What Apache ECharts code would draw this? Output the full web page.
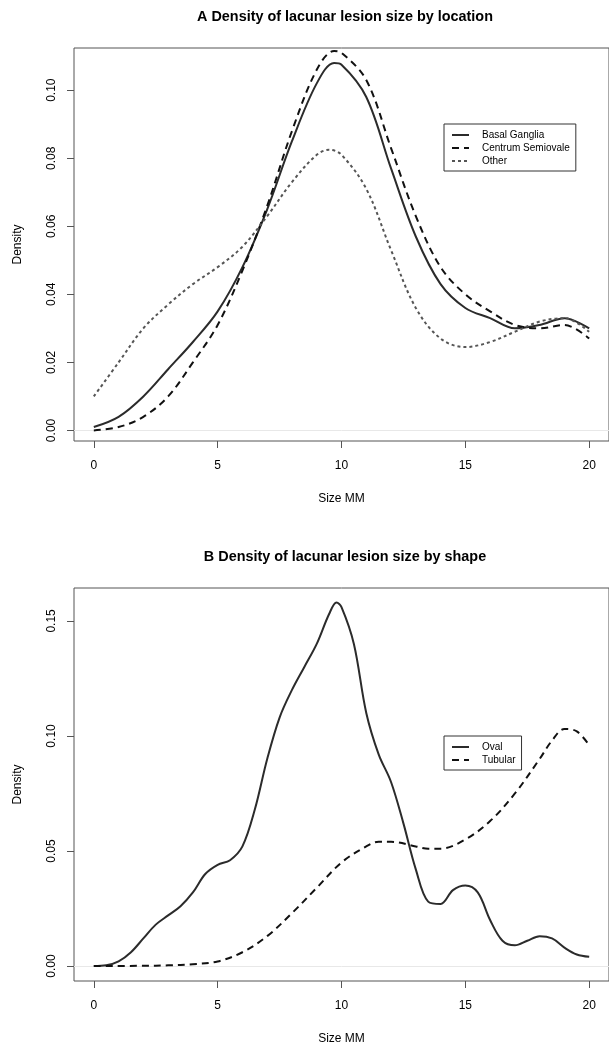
<!DOCTYPE html>
<html>
<head>
<meta charset="utf-8">
<script src="https://cdn.jsdelivr.net/npm/echarts@6/dist/echarts.min.js"></script>
<style>html,body{margin:0;padding:0;background:#fff;}#c{width:609px;height:1048px;}</style>
</head>
<body>
<div id="c"></div>
<script>
// ---- Tick positions and labels ----
const xTicks = [0, 5, 10, 15, 20];
const xTickLabels = ['0', '5', '10', '15', '20'];
const yTicksA = [0, 0.02, 0.04, 0.06, 0.08, 0.10];
const yTickLabelsA = ['0.00', '0.02', '0.04', '0.06', '0.08', '0.10'];
const yTicksB = [0, 0.05, 0.10, 0.15];
const yTickLabelsB = ['0.00', '0.05', '0.10', '0.15'];

// ---- Panel A: density by location ----
const xA = [0, 1, 2, 3, 4, 5, 6, 7, 8, 9, 9.7, 10, 11, 12, 13, 14, 15, 16, 17, 18, 19, 20];
const basalGanglia = [0.001, 0.004, 0.010, 0.018, 0.026, 0.035, 0.048, 0.065, 0.085, 0.102, 0.108, 0.1075, 0.098, 0.077, 0.057, 0.043, 0.036, 0.033, 0.030, 0.031, 0.033, 0.030];
const centrumSemiovale = [0.000, 0.001, 0.004, 0.010, 0.020, 0.031, 0.047, 0.066, 0.088, 0.106, 0.1115, 0.111, 0.103, 0.083, 0.063, 0.048, 0.040, 0.035, 0.031, 0.030, 0.031, 0.027];
const xOther = [0, 1, 2, 3, 4, 5, 6, 7, 8, 9, 9.5, 10, 11, 12, 13, 14, 15, 16, 17, 18, 19, 20];
const other = [0.010, 0.020, 0.030, 0.037, 0.043, 0.048, 0.054, 0.063, 0.073, 0.081, 0.0825, 0.081, 0.071, 0.053, 0.036, 0.027, 0.0245, 0.026, 0.029, 0.032, 0.033, 0.029];

// ---- Panel B: density by shape ----
const xOval = [0, 0.5, 1, 1.5, 2, 2.5, 3, 3.5, 4, 4.5, 5, 5.5, 6, 6.5, 7, 7.5, 8, 8.5, 9, 9.5, 9.8, 10, 10.5, 11, 11.5, 12, 12.5, 13, 13.5, 14, 14.5, 15, 15.5, 16, 16.5, 17, 17.5, 18, 18.5, 19, 19.5, 20];
const oval = [0.000, 0.0003, 0.002, 0.006, 0.012, 0.018, 0.022, 0.026, 0.032, 0.040, 0.044, 0.046, 0.052, 0.068, 0.090, 0.108, 0.120, 0.130, 0.140, 0.153, 0.158, 0.156, 0.140, 0.110, 0.092, 0.080, 0.062, 0.042, 0.028, 0.027, 0.033, 0.035, 0.032, 0.020, 0.011, 0.009, 0.011, 0.013, 0.012, 0.008, 0.005, 0.004];
const xTubular = [0, 2, 3, 4, 5, 6, 7, 8, 9, 10, 11, 11.5, 12, 13, 13.5, 14, 15, 16, 17, 18, 18.5, 19, 19.5, 20];
const tubular = [0.000, 0.0001, 0.0003, 0.0008, 0.002, 0.006, 0.013, 0.023, 0.034, 0.045, 0.052, 0.054, 0.054, 0.052, 0.051, 0.051, 0.055, 0.063, 0.075, 0.090, 0.098, 0.103, 0.102, 0.096];

const FONT = 'Liberation Sans, Arial, sans-serif';
const LINE = '#2b2b2b';
const FRAME = '#555';

function pairs(xs, ys) { return xs.map((x, i) => [x, ys[i]]); }
function lookup(ticks, labels) {
  return function (v) {
    for (let i = 0; i < ticks.length; i++) if (Math.abs(ticks[i] - v) < 1e-9) return labels[i];
    return '';
  };
}

function xAxis(gridIndex) {
  return {
    type: 'value', gridIndex: gridIndex, min: -0.8, max: 20.8, position: 'bottom',
    axisLine: { show: false, onZero: false }, splitLine: { show: false },
    axisTick: { show: true, inside: false, length: 7, customValues: xTicks, lineStyle: { color: FRAME, width: 1 } },
    axisLabel: { customValues: xTicks, formatter: lookup(xTicks, xTickLabels), margin: 19, fontSize: 12, fontFamily: FONT, color: '#000' },
    name: 'Size MM', nameLocation: 'middle', nameGap: 52,
    nameTextStyle: { fontSize: 12, fontFamily: FONT, color: '#000' }
  };
}
function yAxis(gridIndex, min, max, ticks, labels) {
  return {
    type: 'value', gridIndex: gridIndex, min: min, max: max, position: 'left',
    axisLine: { show: false, onZero: false }, splitLine: { show: false },
    axisTick: { show: true, inside: false, length: 7, customValues: ticks, lineStyle: { color: FRAME, width: 1 } },
    axisLabel: { customValues: ticks, formatter: lookup(ticks, labels), rotate: 90, margin: 16, fontSize: 12, fontFamily: FONT, color: '#000' },
    name: 'Density', nameLocation: 'middle', nameGap: 50, nameRotate: 90,
    nameTextStyle: { fontSize: 12, fontFamily: FONT, color: '#000' }
  };
}
function lineSeries(name, data, xi, type, color, withZero) {
  const s = {
    name: name, type: 'line', xAxisIndex: xi, yAxisIndex: xi, data: data,
    showSymbol: false, symbol: 'none', smooth: 0.35, z: 3,
    lineStyle: { color: color, width: 2, type: type },
    itemStyle: { color: color }
  };
  if (withZero) {
    s.markLine = {
      silent: true, symbol: 'none', label: { show: false }, z: 1,
      lineStyle: { color: '#e8e8e8', width: 1, type: 'solid' },
      data: [{ yAxis: 0 }]
    };
  }
  return s;
}

const chart = echarts.init(document.getElementById('c'), null, { renderer: 'canvas' });
const legendBase = {
  orient: 'vertical', left: 444, borderColor: '#333', borderWidth: 1, borderRadius: 0,
  itemWidth: 17, itemHeight: 10, itemGap: 3, selectedMode: false, backgroundColor: '#fff',
  itemStyle: { opacity: 0 },
  textStyle: { fontSize: 10, fontFamily: FONT, color: '#000', padding: [0, 0, 0, 8] }
};
chart.setOption({
  animation: false,
  backgroundColor: '#fff',
  graphic: [
    { type: 'text', x: 345, y: 17.5, style: { text: 'A Density of lacunar lesion size by location', font: 'bold 14.4px ' + FONT, fill: '#000', align: 'center', verticalAlign: 'middle', textAlign: 'center', textVerticalAlign: 'middle' } },
    { type: 'text', x: 345, y: 557.5, style: { text: 'B Density of lacunar lesion size by shape', font: 'bold 14.4px ' + FONT, fill: '#000', align: 'center', verticalAlign: 'middle', textAlign: 'center', textVerticalAlign: 'middle' } }
  ],
  grid: [
    { left: 74, top: 48, width: 541, height: 393, show: true, borderColor: FRAME, borderWidth: 1, containLabel: false },
    { left: 74, top: 588, width: 541, height: 393, show: true, borderColor: FRAME, borderWidth: 1, containLabel: false }
  ],
  xAxis: [xAxis(0), xAxis(1)],
  yAxis: [
    yAxis(0, -0.0031, 0.1124, yTicksA, yTickLabelsA),
    yAxis(1, -0.0065, 0.1643, yTicksB, yTickLabelsB)
  ],
  legend: [
    Object.assign({}, legendBase, { top: 124, padding: [6, 6, 5, 7], data: ['Basal Ganglia', 'Centrum Semiovale', 'Other'] }),
    Object.assign({}, legendBase, { top: 736, padding: [6, 6, 5, 7], data: ['Oval', 'Tubular'] })
  ],
  series: [
    lineSeries('Basal Ganglia', pairs(xA, basalGanglia), 0, 'solid', LINE, true),
    lineSeries('Centrum Semiovale', pairs(xA, centrumSemiovale), 0, [7, 5], '#111', false),
    lineSeries('Other', pairs(xOther, other), 0, [3, 3], '#555', false),
    lineSeries('Oval', pairs(xOval, oval), 1, 'solid', LINE, true),
    lineSeries('Tubular', pairs(xTubular, tubular), 1, [7, 5], '#111', false)
  ]
});
</script>
</body>
</html>
